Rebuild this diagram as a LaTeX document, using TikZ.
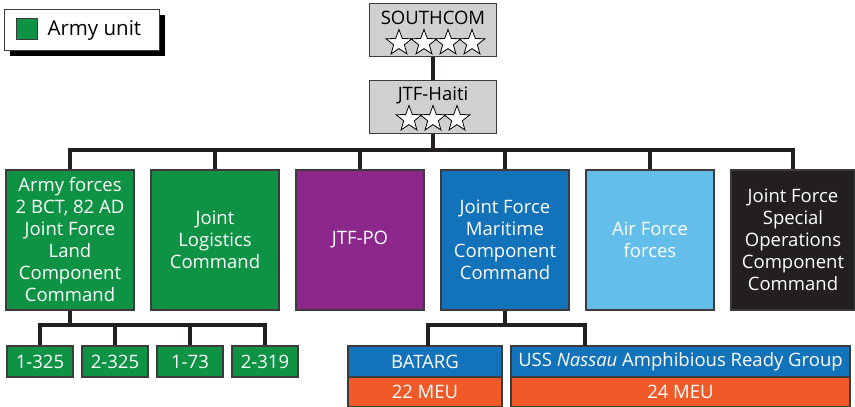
\documentclass[tikz,border=0pt]{standalone}
\usepackage{fontspec}
\setmainfont{Open Sans}
\usetikzlibrary{shapes.geometric,shadows}

\definecolor{armygreen}{RGB}{14,146,68}
\definecolor{jtfpurple}{RGB}{140,40,140}
\definecolor{navyblue}{RGB}{18,114,186}
\definecolor{airblue}{RGB}{100,190,234}
\definecolor{sofblack}{RGB}{35,31,32}
\definecolor{meuorange}{RGB}{240,90,40}
\definecolor{cmdgrey}{RGB}{208,208,208}
\definecolor{edge}{RGB}{60,60,60}

\tikzset{
  unitbox/.style={draw=edge, line width=1.2pt, text=white, align=center,
    inner sep=0pt, font=\fontsize{18.5}{22}\selectfont},
  bigbox/.style={unitbox, minimum width=128pt, minimum height=140pt},
  smallbox/.style={unitbox, fill=armygreen, minimum width=66pt, minimum height=31pt},
  cmdbox/.style={draw=edge, line width=1.2pt, fill=cmdgrey, minimum width=127pt,
    minimum height=53pt, inner sep=0pt},
  rank/.style={star, star points=5, star point ratio=2.4, draw=black, line width=0.8pt,
    fill=white, minimum size=27pt, inner sep=0pt},
  link/.style={draw=sofblack, line width=3.5pt}
}

\begin{document}
\begin{tikzpicture}[x=1pt,y=-1pt]
\useasboundingbox (0,0) rectangle (855,407);

% legend
\node[draw=edge, line width=1.2pt, fill=white, minimum width=155pt, minimum height=41pt,
  drop shadow={shadow xshift=5pt, shadow yshift=-5pt, fill=black, opacity=1}] (legend) at (82,30) {};
\node[draw=edge, line width=1pt, fill=armygreen, minimum size=21pt, inner sep=0pt] (legsq) at (27,29) {};
\node[anchor=west, font=\fontsize{20.5}{24}\selectfont] (legtxt) at (44,30) {Army unit};

% commands
\node[cmdbox] (southcom) at (433,30) {};
\node[font=\fontsize{18.5}{22}\selectfont] (southtxt) at (433,18) {SOUTHCOM};
\foreach \i/\x in {1/399,2/424,3/448,4/472}
  \node[rank] (s\i) at (\x,43) {};
\node[cmdbox] (jtf) at (433,107) {};
\node[font=\fontsize{18.5}{22}\selectfont] (jtftxt) at (433,95) {JTF-Haiti};
\foreach \i/\x in {1/409,2/433,3/457}
  \node[rank] (h\i) at (\x,119) {};

\node[bigbox, fill=armygreen] (army) at (70,240) {Army forces\\2 BCT, 82 AD\\Joint Force\\Land\\Component\\Command};
\node[bigbox, fill=armygreen] (jlc) at (215,240) {Joint\\Logistics\\Command};
\node[bigbox, fill=jtfpurple] (jtfpo) at (360,240) {JTF-PO};
\node[bigbox, fill=navyblue] (jfmcc) at (505,240) {Joint Force\\Maritime\\Component\\Command};
\node[bigbox, fill=airblue] (air) at (650,240) {Air Force\\forces};
\node[bigbox, fill=sofblack, minimum width=124pt] (jfsocc) at (793,240) {Joint Force\\Special\\Operations\\Component\\Command};

% army units
\node[smallbox] (u1) at (40,361.5) {1-325};
\node[smallbox] (u2) at (115,361.5) {2-325};
\node[smallbox] (u3) at (190,361.5) {1-73};
\node[smallbox] (u4) at (265,361.5) {2-319};

% maritime units
\node[unitbox, fill=navyblue, minimum width=154pt, minimum height=31pt] (batarg) at (425,361.5) {BATARG};
\node[unitbox, fill=meuorange, minimum width=154pt, minimum height=30pt] (meua) at (425,392) {22 MEU};
\node[unitbox, fill=navyblue, minimum width=339pt, minimum height=31pt] (nassau) at (680.5,361.5) {USS \textit{Nassau} Amphibious Ready Group};
\node[unitbox, fill=meuorange, minimum width=339pt, minimum height=30pt] (meub) at (680.5,392) {24 MEU};

% links
\coordinate (topbar) at (433,150);
\coordinate (armybar) at (70,325);
\coordinate (navbar) at (505,325);
\draw[link] (southcom.south) -- (jtf.north);
\draw[link] (jtf.south) -- (topbar);
\foreach \n in {army,jlc,jtfpo,jfmcc,air,jfsocc}
  \draw[link] (topbar) -| (\n.north);
\draw[link] (army.south) -- (armybar);
\foreach \n in {u1,u2,u3,u4}
  \draw[link] (armybar) -| (\n.north);
\draw[link] (jfmcc.south) -- (navbar);
\draw[link] (navbar) -| (428,346) coordinate (batop);
\draw[link] (navbar) -| (585,346) coordinate (natop);

\end{tikzpicture}
\end{document}
